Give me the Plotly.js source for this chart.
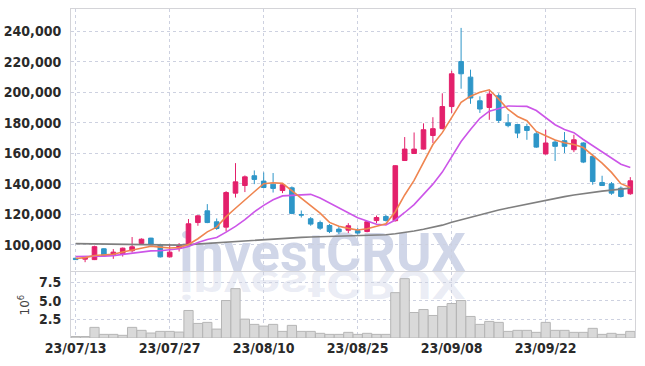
<!DOCTYPE html>
<html>
<head>
<meta charset="utf-8">
<script src="https://cdn.plot.ly/plotly-3.0.1.min.js"></script>
<style>
  html, body { margin:0; padding:0; background:#ffffff; }
  #wrap { position:relative; width:645px; height:366px; overflow:hidden; }
  #chart { position:absolute; left:0; top:0; width:645px; height:366px; z-index:2; }
  .wm { position:absolute; left:0; width:645px; text-align:center; top:225px;
        font-family:Roboto, "Open Sans", sans-serif; font-weight:700; font-size:54px;
        line-height:55px; white-space:nowrap; z-index:1; pointer-events:none; }
  #wm1 { color:rgba(150,163,205,0.45); }
  #wm2 { color:rgba(150,163,205,0.2); transform:scaleY(-0.72); transform-origin:50% 46px; }
</style>
</head>
<body>
<div id="wrap">
  <div class="wm" id="wm1">investCRUX</div>
  <div class="wm" id="wm2">investCRUX</div>
  <div id="chart"></div>
</div>
<script>
const dates = ["23/07/13","23/07/14","23/07/17","23/07/18","23/07/19","23/07/20","23/07/21","23/07/24","23/07/25","23/07/26",
  "23/07/27","23/07/28","23/07/31","23/08/01","23/08/02","23/08/03","23/08/04","23/08/07","23/08/08","23/08/09",
  "23/08/10","23/08/11","23/08/14","23/08/16","23/08/17","23/08/18","23/08/21","23/08/22","23/08/23","23/08/24",
  "23/08/25","23/08/28","23/08/29","23/08/30","23/08/31","23/09/01","23/09/04","23/09/05","23/09/06","23/09/07",
  "23/09/08","23/09/11","23/09/12","23/09/13","23/09/14","23/09/15","23/09/18","23/09/19","23/09/20","23/09/21",
  "23/09/22","23/09/25","23/09/26","23/09/27","23/10/04","23/10/05","23/10/06","23/10/10","23/10/11","23/10/12"];

const openP = [91200,90600,90300,97400,93200,94100,96100,100900,104400,100200,
  92100,97800,100500,114600,122300,115100,111600,133900,138900,145300,
  141800,139800,135600,137400,119900,117100,114600,112700,110300,109600,
  109400,108700,115900,118600,115800,155300,159900,162800,171700,176200,
  190700,220200,210000,194500,190100,197800,180000,178900,177600,172800,
  159600,167400,168300,162400,166800,158000,140900,140000,137200,133500];
const highP = [91300,92300,99400,97800,97200,98200,105100,104200,104600,100700,
  100500,101100,116900,119500,126700,117300,135200,153600,145500,148800,
  147500,147100,140500,138300,122500,118200,115900,113600,112000,114200,
  111000,115600,119200,119700,152200,170700,173700,179700,183700,199400,
  214200,242300,214900,197400,201300,199400,185800,179400,179400,174400,
  175500,168900,174000,172200,167300,159700,145300,141200,138300,144400];
const lowP = [90200,88600,90000,92500,90800,92300,94900,100400,99800,91700,
  91800,95600,100200,112500,114200,109800,108700,131000,134600,139800,
  137000,134300,133900,120100,117900,112500,109800,107700,107000,107700,
  106600,108200,114200,115300,115300,155000,159600,162500,166800,175800,
  186500,202400,192500,186500,182000,180000,177100,170000,168900,163600,
  159200,155000,160200,160800,153600,139400,138600,132800,131000,132800];
const closeP = [90300,92000,98800,92800,95200,97800,98700,103700,100000,92100,
  95200,99800,113800,119000,114600,110700,134300,141300,144600,142900,
  137600,137000,139400,120600,119500,113600,110900,108700,108500,112500,
  107700,115100,117900,116000,151900,162800,162800,175500,176200,190700,
  212200,212200,196300,189100,198900,181600,178200,173300,175000,164100,
  166800,164600,164600,168900,154300,141500,138900,133900,131700,142000];

// volume in millions of shares
const volumeM = [0.2,0.2,1.43,0.49,0.49,0.36,1.43,1.03,0.67,0.89,
  0.89,0.8,3.7,1.96,2.1,1.2,5.04,6.64,2.54,1.83,
  1.6,1.83,0.89,1.7,0.89,0.89,0.63,0.49,0.49,0.76,
  0.49,0.63,0.49,0.49,6.1,7.98,3.43,3.83,3.03,4.24,
  4.64,5.04,2.9,1.83,2.23,2.1,0.89,1.03,1.03,0.76,
  2.1,1.03,1.03,0.76,0.76,1.3,0.49,0.63,0.49,0.89];

const maShort = [91000,91600,93000,93300,93800,95300,96700,97600,99100,98500,
  97900,98200,100200,104000,108500,111600,118500,124000,129100,134800,
  140100,140700,140300,135500,130800,126000,120800,114700,112200,110800,
  109700,110500,112300,113800,121700,132700,142300,153800,165800,173600,
  183500,193400,197500,200100,201700,195600,188800,184200,181400,174400,
  171500,168800,167000,165800,163800,158800,153600,147500,140100,137600];
const maMid = [92300,92300,92400,92600,92900,93600,94500,95400,96000,96100,
  96600,97400,98900,101500,103500,104800,108300,112100,116500,121600,
  125900,129600,132100,132300,132800,133100,130700,127500,123900,120800,
  117800,115700,113500,113000,116300,121200,126400,133100,139800,147700,
  158100,167800,175700,183000,187700,189600,191100,190900,190800,188100,
  183600,178800,175600,173600,169100,165100,161200,157300,152900,150700];
const maLong = [100800,100700,100600,100500,100400,100300,100200,100100,100000,99800,
  99600,99800,100100,100500,100900,101300,101800,102300,102800,103300,
  103700,104000,104300,104600,104900,105100,105300,105500,105600,105800,
  105900,106100,106300,106600,107300,108100,109100,110200,111400,112900,
  114800,116500,118000,119500,121300,122800,124200,125500,126900,128200,
  129400,130500,131600,132700,133700,134500,135200,135900,136600,137200];

const tickDates = ["23/07/13","23/07/27","23/08/10","23/08/25","23/09/08","23/09/22"];
const priceTicks = [100000,120000,140000,160000,180000,200000,220000,240000];
const volTicks = [2.5,5.0,7.5];

const tickFont = {family:'"DejaVu Sans Condensed", "DejaVu Sans", sans-serif', size:14, color:'#2a2a2a', weight:700};
const gridC = '#cdd1e0';
const lineC = '#d4d4d8';

const traces = [
  {type:'candlestick', x:dates, open:openP, high:highP, low:lowP, close:closeP,
   xaxis:'x', yaxis:'y',
   increasing:{line:{color:'#e3206b', width:1}, fillcolor:'#e3206b'},
   decreasing:{line:{color:'#2e96c8', width:1}, fillcolor:'#2e96c8'},
   whiskerwidth:0, hoverinfo:'skip'},
  {type:'scatter', mode:'lines', x:dates, y:maLong, xaxis:'x', yaxis:'y',
   line:{color:'#7f7f7f', width:1.6}, hoverinfo:'skip'},
  {type:'scatter', mode:'lines', x:dates, y:maMid, xaxis:'x', yaxis:'y',
   line:{color:'#cc55e8', width:1.6}, hoverinfo:'skip'},
  {type:'scatter', mode:'lines', x:dates, y:maShort, xaxis:'x', yaxis:'y',
   line:{color:'#ef8550', width:1.6}, hoverinfo:'skip'},
  {type:'bar', x:dates, y:volumeM, xaxis:'x2', yaxis:'y2',
   marker:{color:'#d9d9d9', line:{color:'#b6b6b6', width:1}}, hoverinfo:'skip'}
];

const layout = {
  width:645, height:366,
  margin:{l:71, r:10, t:9, b:28},
  paper_bgcolor:'rgba(0,0,0,0)', plot_bgcolor:'rgba(0,0,0,0)',
  showlegend:false, bargap:0.02, boxgap:0.3,
  xaxis:{type:'category', anchor:'y', range:[-0.5,59.5], tickvals:tickDates,
    showticklabels:false, ticks:'', showgrid:true, gridcolor:gridC, griddash:'dot', gridwidth:1,
    showline:true, mirror:true, linecolor:lineC, linewidth:1, zeroline:false,
    rangeslider:{visible:false}, fixedrange:true},
  yaxis:{domain:[0.204,1], range:[82900,254700], tickvals:priceTicks, tickformat:',d',
    tickfont:tickFont, showgrid:true, gridcolor:gridC, griddash:'dot', gridwidth:1,
    showline:true, mirror:true, linecolor:lineC, linewidth:1, zeroline:false,
    ticks:'', ticklabelstandoff:6},
  xaxis2:{type:'category', anchor:'y2', matches:'x', range:[-0.5,59.5], tickvals:tickDates, ticktext:tickDates,
    tickfont:tickFont, showgrid:true, gridcolor:gridC, griddash:'dot', gridwidth:1,
    showline:false, zeroline:false, ticks:'', tickangle:0},
  yaxis2:{domain:[0,0.2], range:[0,8.85], tickvals:volTicks, tickformat:'.1f',
    tickfont:tickFont, showgrid:true, gridcolor:gridC, griddash:'dot', gridwidth:1,
    showline:true, mirror:true, linecolor:lineC, linewidth:1, zeroline:false,
    ticks:'', ticklabelstandoff:6,
    title:{text:'10<sup>6</sup>', font:{family:'"DejaVu Sans", sans-serif', size:12, color:'#444'}, standoff:6}}
};

Plotly.newPlot('chart', traces, layout, {staticPlot:true, displayModeBar:false});
</script>
</body>
</html>
